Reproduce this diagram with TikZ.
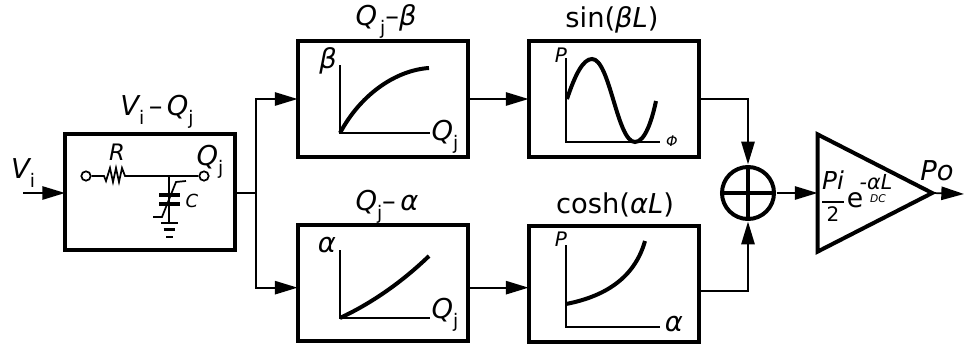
\documentclass[tikz,border=0pt]{standalone}
\usepackage{fontspec}
\setmainfont{DejaVu Sans}
\usetikzlibrary{arrows.meta, positioning, shapes.geometric}
\newcommand{\lowtxt}[1]{\raisebox{-7pt}{\fontsize{14}{16}\selectfont\upshape #1}}

\begin{document}
\begin{tikzpicture}[
    x=0.75pt, y=-0.75pt,
    node distance=51pt and 45.75pt,
    box/.style={
      rectangle, draw=black, fill=white, line width=3pt, outer sep=0pt,
      minimum height=87pt, minimum width=127.5pt
    },
    arrow/.style={-{Triangle[length=17pt, width=10pt]}, line width=1.3pt},
    wire/.style={line width=1.3pt},
    axis/.style={line width=1.2pt},
    curve/.style={line width=3pt},
    label/.style={inner sep=0pt, anchor=base, font=\fontsize{20.5}{24}\selectfont},
    small/.style={inner sep=0pt, anchor=base, font=\fontsize{15}{17}\selectfont\itshape},
    terminal/.style={circle, draw=black, fill=white, line width=1.3pt, inner sep=0pt, minimum size=7pt}
  ]
    \useasboundingbox (0,0) rectangle (964,350);

    % Blocks
    \node[box] (vq) at (150,192) {};
    \node[box] (qb) at (382.5,99) {};
    \node[box, right=of qb] (sine) {};
    \node[box, below=of qb] (qa) {};
    \node[box, right=of qa, yshift=-0.75pt] (cosine) {};
    \node[circle, draw=black, line width=3pt, minimum size=39pt, inner sep=0pt, outer sep=2pt] (sum) at (748,193) {};
    \node[isosceles triangle, isosceles triangle stretches, draw=black, line width=3pt,
      minimum width=88pt, minimum height=86pt, inner sep=0pt, outer sep=0pt,
      anchor=lower side] (amp) at (817.5,193) {};

    % Titles
    \node[label] (vqtitle) at (157,115) {\itshape V\lowtxt{i}\,\upshape–\,\itshape Q\lowtxt{j}};
    \node[label] (qbtitle) at (386,25) {\itshape Q\lowtxt{\,j}\upshape–\itshape β};
    \node[label] (sinetitle) at (612,27) {sin(\textit{βL})};
    \node[label] (qatitle) at (387,210) {\itshape Q\lowtxt{j}\upshape–\,\itshape α};
    \node[label] (costitle) at (615,213) {cosh(\textit{αL})};

    % Input and sum
    \node[label] (vin) at (23,178) {\itshape V\lowtxt{i}};
    \node[label] (pout) at (937,180) {\itshape Po};
    \coordinate (vstart) at (23,193);
    \coordinate (pend) at (964,194);
    \coordinate (split) at (256,193);
    \draw[arrow] (vstart) -- (vq.west|-vstart);
    \draw[wire] (vq.east|-split) -- (split);
    \draw[arrow] (split) |- (qb.west);
    \draw[arrow] (split) |- ([yshift=-3.5pt]qa.west);
    \draw[arrow] (qb.east) -- (sine.west);
    \draw[arrow] ([yshift=-3.5pt]qa.east) -- ([yshift=-2.75pt]cosine.west);
    \draw[arrow] (sine.east) -| (sum.north);
    \draw[arrow] ([yshift=-5pt]cosine.east) -| (sum.south);
    \draw[arrow] (sum.east) -- (amp.lower side);
    \draw[arrow] (amp.apex) -- (pend);
    \draw[line width=2.4pt, shorten >=2.5pt, shorten <=2.5pt] (sum.west) -- (sum.east);
    \draw[line width=2.4pt, shorten >=2.5pt, shorten <=2.5pt] (sum.north) -- (sum.south);

    % Gain
    \node[label, font=\fontsize{18.5}{21}\selectfont\itshape] (gaintop) at (833,189) {Pi};
    \node[label, font=\fontsize{15}{17}\selectfont] (gainbot) at (833,221) {2};
    \draw[wire] (gainbot|-0,202) -- ++(-11,0) -- ++(22,0);
    \node[label, font=\fontsize{20}{24}\selectfont] (gaine) at (855,207) {e};
    \node[label, font=\fontsize{15.5}{18}\selectfont\itshape] (gainexp) at (876,189) {-αL};
    \node[label, font=\fontsize{8}{10}\selectfont\itshape] (gaindc) at (878,202) {DC};

    % Circuit
    \node[terminal] (termin) at (86,176) {};
    \node[terminal] (termout) at (204,176) {};
    \coordinate (junction) at (169,176);
    \coordinate (gnd) at (169,223);
    \node[small, font=\fontsize{17}{19}\selectfont\itshape] (rlabel) at (117,160) {R};
    \node[label] (qlabel) at (210,165) {\itshape Q\lowtxt{j}};
    \node[small, font=\fontsize{13.5}{16}\selectfont\itshape] (clabel) at (192,207) {C};
    \draw[wire] (termin) -- (104,176) -- (106,181) -- (110,168) -- (113,182) -- (116,168) -- (119,182) -- (122,168) -- (125,176) -- (termout);
    \draw[wire] (junction) -- (gnd);
    \draw[line width=2.4pt] (159,195) -- (180,195) (159,204) -- (180,204);
    \draw[wire] (153,217) -- (162,217) -- (176,182) -- (186,181);
    \draw[line width=1.8pt] (161,223) -- (178,223) (163.5,229.5) -- (175,229.5) (166,237) -- (173,237);

    % Q-beta plot
    \node[label] (betalabel) at (328,68) {\itshape β};
    \node[label] (qblabel) at (445,140) {\itshape Q\lowtxt{j}};
    \draw[axis] (340,65) -- (340,133) -- (430,133);
    \draw[curve] (340,133) .. controls (362,92) and (398,70) .. (429,68);

    % Sine plot
    \node[small] (psine) at (561,62) {P};
    \node[small, font=\fontsize{11}{13}\selectfont\itshape] (phi) at (672,146) {Φ};
    \draw[axis] (566,58) -- (566,142) -- (660,142);
    \draw[curve] (567,99) .. controls (575,75) and (583,59) .. (592,59) .. controls (610,59) and (617,142) .. (635,142) .. controls (645,142) and (652,120) .. (656,101);

    % Q-alpha plot
    \node[label] (alphalabel) at (327,252) {\itshape α};
    \node[label] (qalabel) at (445,318) {\itshape Q\lowtxt{j}};
    \draw[axis] (340,250) -- (340,318) -- (430,318);
    \draw[curve] (340,318) .. controls (372,303) and (402,282) .. (429,256);

    % Cosh plot
    \node[small] (pcosh) at (561,246) {P};
    \node[label] (alphaaxis) at (674,331) {\itshape α};
    \draw[axis] (566,245) -- (566,327) -- (660,327);
    \draw[curve] (566,304) .. controls (602,297) and (634,280) .. (645,241);
  \end{tikzpicture}
\end{document}
